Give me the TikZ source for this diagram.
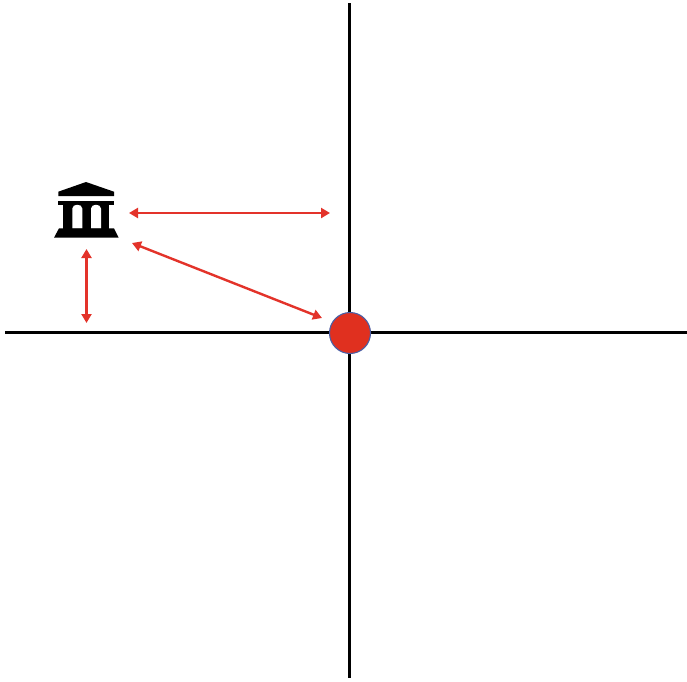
\documentclass[tikz,border=0pt]{standalone}
\usetikzlibrary{arrows.meta}
\definecolor{arrowred}{HTML}{E3332A}
\definecolor{hubred}{HTML}{E0301F}
\definecolor{hubblue}{HTML}{4A5FA5}
\tikzset{
  axis/.style={line width=3pt,black},
  link/.style={line width=2.4pt,arrowred,{Triangle[length=9pt,width=10pt]}-{Triangle[length=9pt,width=10pt]},shorten <=0pt,shorten >=0pt},
  hubdot/.style={circle,fill=hubred,draw=hubblue,line width=1.1pt,minimum size=41pt,inner sep=0pt},
  icon/.style={fill=black,draw=none}
}
\begin{document}
\begin{tikzpicture}[x=1pt,y=-1pt]
\useasboundingbox (0,0) rectangle (687,681);
\fill[white] (0,0) rectangle (687,681);
\coordinate (xl) at (5,332.5);
\coordinate (xr) at (687,332.5);
\coordinate (yt) at (349,3);
\coordinate (yb) at (349,678);
\draw[axis] (xl) -- (xr);
\draw[axis] (yt) -- (yb);
\node[hubdot] (hub) at (350,333) {};
% bank icon
\fill[icon] (86,182) -- (114,191.7) -- (114,196) -- (58.3,196) -- (58.3,191.7) -- cycle;
\fill[icon] (58.3,200.7) rectangle (114,204.7);
\fill[icon] (63.3,204.7) rectangle (109.3,228.5);
\fill[white] (72.3,228.5) -- (72.3,208.5) .. controls (72.3,203.5) and (82.3,203.5) .. (82.3,208.5) -- (82.3,228.5) -- cycle;
\fill[white] (91,228.5) -- (91,208.5) .. controls (91,203.5) and (101,203.5) .. (101,208.5) -- (101,228.5) -- cycle;
\fill[icon] (59,228.3) -- (114,228.3) -- (118.7,237.7) -- (54,237.7) -- cycle;
% arrow ends
\coordinate (a1) at (129,213);
\coordinate (a2) at (330,213);
\coordinate (b1) at (132,243);
\coordinate (b2) at (322,318);
\coordinate (c1) at (86.5,249);
\coordinate (c2) at (86.5,323);
\draw[link] (a1) -- (a2);
\draw[link] (b1) -- (b2);
\draw[link] (c1) -- (c2);
\end{tikzpicture}
\end{document}
